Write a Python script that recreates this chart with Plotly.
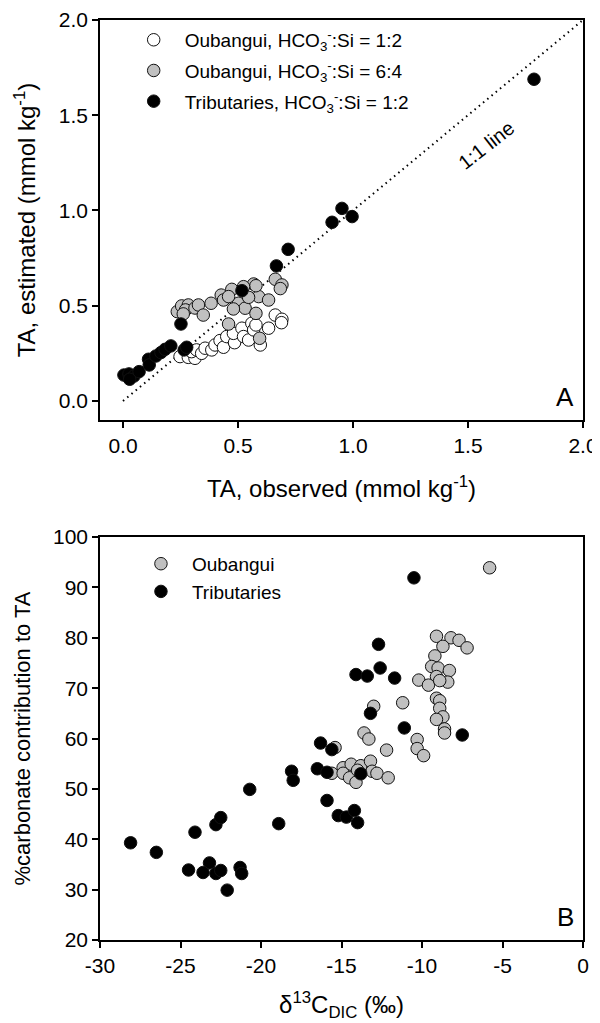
import plotly.graph_objects as go

# ---------------- Panel A data (TA observed vs estimated, mmol/kg) ----------------
oub12_obs = [0.248, 0.284, 0.313, 0.298, 0.320, 0.342, 0.357, 0.386, 0.400, 0.422, 0.437, 0.451,
             0.485, 0.480, 0.517, 0.524, 0.546, 0.560, 0.568, 0.578, 0.597, 0.633, 0.662, 0.691, 0.689]
oub12_est = [0.233, 0.229, 0.224, 0.259, 0.268, 0.250, 0.277, 0.268, 0.294, 0.317, 0.282, 0.338,
             0.306, 0.355, 0.382, 0.338, 0.320, 0.408, 0.373, 0.399, 0.294, 0.382, 0.451, 0.429, 0.411]

oub64_obs = [0.236, 0.255, 0.284, 0.272, 0.262, 0.313, 0.328, 0.349, 0.383, 0.427, 0.437, 0.473,
             0.502, 0.531, 0.568, 0.590, 0.633, 0.662, 0.691, 0.459, 0.594, 0.684, 0.578, 0.524,
             0.459, 0.546, 0.480, 0.578]
oub64_est = [0.469, 0.499, 0.504, 0.478, 0.457, 0.488, 0.504, 0.451, 0.513, 0.556, 0.530, 0.586,
             0.513, 0.487, 0.614, 0.548, 0.530, 0.639, 0.609, 0.404, 0.329, 0.590, 0.605, 0.600,
             0.548, 0.544, 0.483, 0.460]

trib_obs = [0.004, 0.026, 0.048, 0.029, 0.070, 0.111, 0.114, 0.143, 0.165, 0.183, 0.208, 0.252,
            0.266, 0.277, 0.517, 0.667, 0.718, 0.909, 0.952, 0.996, 1.787]
trib_est = [0.136, 0.142, 0.131, 0.114, 0.154, 0.219, 0.189, 0.236, 0.254, 0.271, 0.289, 0.404,
            0.268, 0.282, 0.579, 0.709, 0.796, 0.938, 1.011, 0.968, 1.689]

one_to_one = [0.0, 2.0]
ticks_A = [0.0, 0.5, 1.0, 1.5, 2.0]

# ---------------- Panel B data (d13C-DIC vs % carbonate contribution) ----------------
oub_d13c = [-5.8, -9.1, -8.2, -7.7, -7.2, -8.7, -9.2, -9.4, -9.0, -8.3, -9.1, -8.4, -10.2, -9.6,
            -8.9, -9.1, -8.9, -8.9, -8.7, -9.1, -8.6, -8.6, -11.2, -13.0, -13.6, -13.3, -10.3,
            -10.3, -9.9, -12.2, -14.9, -14.4, -13.8, -13.2, -13.1, -12.8, -12.1, -15.6, -14.9,
            -14.5, -14.1, -14.0, -15.4]
oub_carb = [93.9, 80.3, 80.0, 79.5, 78.0, 78.3, 76.4, 74.3, 74.0, 73.5, 72.3, 71.2, 71.6, 70.6,
            71.5, 68.0, 67.5, 66.0, 64.3, 63.8, 61.9, 61.1, 67.1, 66.4, 61.1, 59.9, 59.8,
            58.0, 56.6, 57.7, 54.2, 54.9, 54.6, 55.5, 53.5, 53.1, 52.2, 53.1, 53.1,
            52.2, 51.3, 53.7, 58.2]

trib_d13c = [-28.1, -26.5, -24.1, -22.8, -22.5, -24.5, -23.2, -23.6, -22.8, -22.5, -22.1, -21.3,
             -21.2, -20.7, -18.9, -18.1, -18.0, -16.5, -15.9, -16.3, -15.6, -15.9, -15.2, -14.7,
             -14.2, -14.0, -14.1, -13.4, -11.7, -12.6, -12.7, -10.5, -13.2, -11.1, -7.5, -13.8]
trib_carb = [39.3, 37.4, 41.4, 42.9, 44.3, 33.9, 35.3, 33.4, 33.2, 33.8, 29.9, 34.4,
             33.2, 49.9, 43.1, 53.5, 51.7, 54.0, 53.3, 59.1, 57.8, 47.7, 44.7, 44.4,
             45.7, 43.3, 72.7, 72.4, 72.0, 74.0, 78.7, 91.9, 65.0, 62.1, 60.7, 53.0]

ticks_B_x = [-30, -25, -20, -15, -10, -5, 0]
ticks_B_x_text = ["-30", "-25", "-20", "-15", "-10", "-5", "0"]
ticks_B_y = [20, 30, 40, 50, 60, 70, 80, 90, 100]

FONT = "Liberation Sans, Arial, sans-serif"
GREY = "#c0c0c0"
MSIZE = 12.5

def mk(color):
    return dict(size=MSIZE, color=color, line=dict(color="#111111", width=1))

fig = go.Figure()

# Panel A
fig.add_trace(go.Scatter(x=one_to_one, y=one_to_one, mode="lines",
                         line=dict(color="black", width=2, dash="1.5px,4px"),
                         showlegend=False, xaxis="x", yaxis="y", hoverinfo="skip"))
fig.add_trace(go.Scatter(x=oub12_obs, y=oub12_est, mode="markers", marker=mk("white"),
                         name="Oubangui, HCO<sub>3</sub><sup>-</sup>:Si = 1:2",
                         legend="legend", legendgroup="a1", xaxis="x", yaxis="y"))
fig.add_trace(go.Scatter(x=oub64_obs, y=oub64_est, mode="markers", marker=mk(GREY),
                         name="Oubangui, HCO<sub>3</sub><sup>-</sup>:Si = 6:4",
                         legend="legend", legendgroup="a2", xaxis="x", yaxis="y"))
fig.add_trace(go.Scatter(x=trib_obs, y=trib_est, mode="markers", marker=mk("black"),
                         name="Tributaries, HCO<sub>3</sub><sup>-</sup>:Si = 1:2",
                         legend="legend", legendgroup="a3", xaxis="x", yaxis="y"))

# Panel B
fig.add_trace(go.Scatter(x=oub_d13c, y=oub_carb, mode="markers", marker=mk(GREY),
                         name="Oubangui", legend="legend2", xaxis="x2", yaxis="y2"))
fig.add_trace(go.Scatter(x=trib_d13c, y=trib_carb, mode="markers", marker=mk("black"),
                         name="Tributaries", legend="legend2", xaxis="x2", yaxis="y2"))

axis_common = dict(showline=True, mirror=True, linecolor="black", linewidth=1.5,
                   ticks="outside", ticklen=6, tickwidth=1.5, tickcolor="black",
                   showgrid=False, zeroline=False, automargin=True,
                   tickfont=dict(family=FONT, size=21, color="black"))

# page body has an 8px margin, so the figure is sized to fit the 600x1023 window
fig.update_layout(
    width=592, height=1015,
    margin=dict(l=92, r=17, t=12, b=83, autoexpand=False),
    plot_bgcolor="white", paper_bgcolor="white",
    font=dict(family=FONT, color="black"),
    xaxis=dict(axis_common, domain=[0, 1], anchor="y", range=[-0.1, 2.0], tickvals=ticks_A,
               tickformat=".1f",
               title=dict(text="TA, observed (mmol kg<sup>-1</sup>)", standoff=24,
                          font=dict(family=FONT, size=24))),
    yaxis=dict(axis_common, domain=[0.5652, 1], anchor="x", range=[-0.1, 2.0], tickvals=ticks_A,
               tickformat=".1f",
               title=dict(text="TA, estimated (mmol kg<sup>-1</sup>)", standoff=16,
                          font=dict(family=FONT, size=24))),
    xaxis2=dict(axis_common, domain=[0, 1], anchor="y2", range=[-30, 0],
                tickvals=ticks_B_x, ticktext=ticks_B_x_text,
                title=dict(text="δ<sup>13</sup>C<sub>DIC</sub> (‰)", standoff=20,
                           font=dict(family=FONT, size=24))),
    yaxis2=dict(axis_common, domain=[0, 0.438], anchor="x2", range=[20, 100], tickvals=ticks_B_y,
                title=dict(text="%carbonate contribution to TA", standoff=16,
                           font=dict(family=FONT, size=22))),
    legend=dict(x=0.047, y=0.999, xanchor="left", yanchor="top", bgcolor="rgba(0,0,0,0)",
                font=dict(family=FONT, size=19), itemwidth=52, traceorder="grouped",
                tracegroupgap=3),
    legend2=dict(x=0.062, y=0.4295, xanchor="left", yanchor="top", bgcolor="rgba(0,0,0,0)",
                 font=dict(family=FONT, size=19), itemwidth=52, traceorder="normal"),
    annotations=[
        dict(text="1:1 line", x=1.58, y=1.344, xref="x", yref="y", showarrow=False,
             textangle=-38, font=dict(family=FONT, size=20)),
        dict(text="A", x=0.985, y=0.015, xref="x domain", yref="y domain", xanchor="right",
             yanchor="bottom", showarrow=False, font=dict(family=FONT, size=26)),
        dict(text="B", x=0.985, y=0.015, xref="x2 domain", yref="y2 domain", xanchor="right",
             yanchor="bottom", showarrow=False, font=dict(family=FONT, size=26)),
    ],
)

fig.write_html("out.html")
